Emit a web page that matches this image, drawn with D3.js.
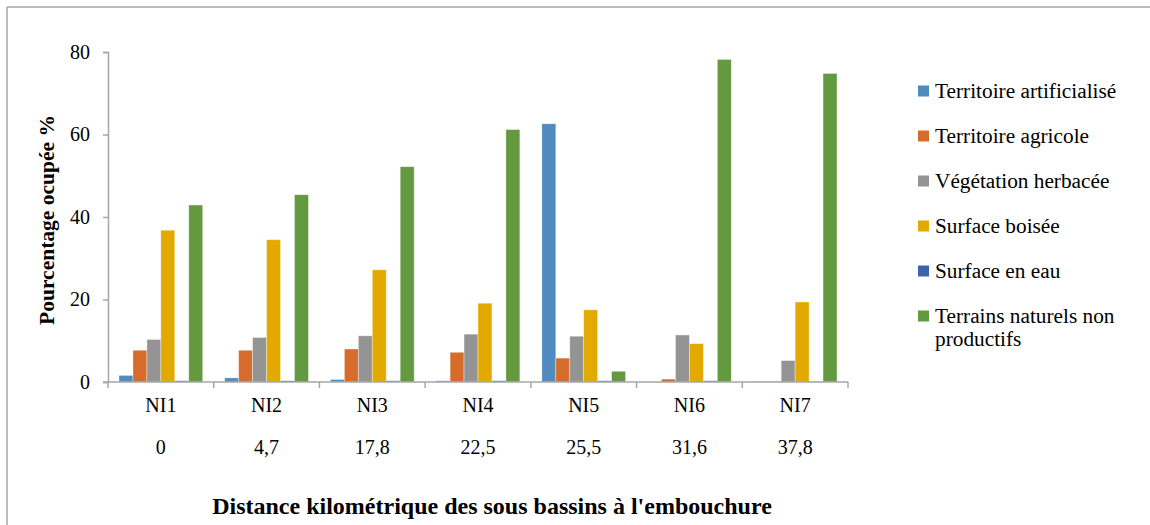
<!DOCTYPE html>
<html>
<head>
<meta charset="utf-8">
<script src="https://cdn.jsdelivr.net/npm/d3@7"></script>
<style>
  body { margin: 0; background: #fff; }
  svg { display: block; font-family: "Liberation Serif", "Times New Roman", serif; }
  svg text { font-family: "Liberation Serif", "Times New Roman", serif; }
</style>
</head>
<body>
<div id="chart"></div>
<script>
// data
const categories = ["NI1", "NI2", "NI3", "NI4", "NI5", "NI6", "NI7"];
const distances = ["0", "4,7", "17,8", "22,5", "25,5", "31,6", "37,8"];
const seriesNames = ["Territoire artificialisé", "Territoire agricole", "Végétation herbacée",
  "Surface boisée", "Surface en eau", "Terrains naturels non productifs"];
const artificialise = [1.6, 1.0, 0.6, 0.3, 62.6, 0, 0.1];
const agricole = [7.7, 7.7, 8.0, 7.2, 5.8, 0.7, 0.1];
const herbacee = [10.3, 10.8, 11.2, 11.6, 11.1, 11.4, 5.2];
const boisee = [36.8, 34.5, 27.2, 19.1, 17.5, 9.3, 19.4];
const eau = [0.3, 0.3, 0.3, 0.3, 0.3, 0.3, 0.1];
const naturels = [42.9, 45.4, 52.2, 61.2, 2.6, 78.2, 74.8];
const yTicks = [0, 20, 40, 60, 80];

const seriesValues = [artificialise, agricole, herbacee, boisee, eau, naturels];
const colors = ["#508ABE", "#D56C2C", "#949494", "#E2AA00", "#3B64AD", "#63993F"];

const width = 1150, height = 525;
const margin = { top: 52, right: 302, bottom: 143, left: 108 };

const svg = d3.select("#chart").append("svg")
  .attr("width", width)
  .attr("height", height);

// frame lines (top + left only visible)
svg.append("line").attr("x1", 7).attr("x2", width).attr("y1", 7).attr("y2", 7)
  .attr("stroke", "#A6A6A6").attr("stroke-width", 1.5);
svg.append("line").attr("x1", 7).attr("x2", 7).attr("y1", 7).attr("y2", height)
  .attr("stroke", "#A6A6A6").attr("stroke-width", 1.5);

const x0 = d3.scaleBand()
  .domain(categories)
  .range([margin.left, width - margin.right])
  .padding(0);

const x1 = d3.scaleBand()
  .domain(d3.range(seriesNames.length))
  .range([11, x0.bandwidth() - 11])
  .padding(0);

const y = d3.scaleLinear()
  .domain([0, 80])
  .range([height - margin.bottom, margin.top]);

// y axis
const yAxis = g => g
  .attr("transform", `translate(${margin.left},0)`)
  .call(d3.axisLeft(y).tickValues(yTicks).tickSize(5).tickPadding(13))
  .attr("font-family", null)
  .attr("font-size", null)
  .call(g => g.selectAll("line, path").attr("stroke", "#A6A6A6").attr("stroke-width", 1.5))
  .call(g => g.selectAll("text").attr("font-size", 20).attr("fill", "#000"));

svg.append("g").call(yAxis);

// bars
const groups = svg.append("g")
  .selectAll("g")
  .data(categories)
  .join("g")
  .attr("transform", d => `translate(${x0(d)},0)`);

groups.selectAll("rect")
  .data((d, i) => seriesValues.map((vals, s) => ({ s, v: vals[i] })))
  .join("rect")
  .attr("x", d => x1(d.s))
  .attr("width", x1.bandwidth())
  .attr("y", d => y(d.v))
  .attr("height", d => y(0) - y(d.v))
  .attr("fill", d => colors[d.s])
  .attr("stroke", "#fff")
  .attr("stroke-opacity", 0.45)
  .attr("stroke-width", 0.8);

// x axis
const xAxis = g => g
  .attr("transform", `translate(0,${y(0)})`)
  .call(d3.axisBottom(x0).tickSize(0).tickSizeOuter(0).tickFormat(""))
  .call(g => g.select(".domain").attr("stroke", "#A6A6A6").attr("stroke-width", 1.5)
    .attr("d", `M${margin.left - 5},0H${width - margin.right}`));

const gx = svg.append("g").call(xAxis);
gx.selectAll(".sep")
  .data(categories.concat(["end"]))
  .join("line")
  .attr("class", "sep")
  .attr("x1", (d, i) => i < categories.length ? x0(d) : x0(categories[categories.length - 1]) + x0.bandwidth())
  .attr("x2", (d, i) => i < categories.length ? x0(d) : x0(categories[categories.length - 1]) + x0.bandwidth())
  .attr("y1", 0).attr("y2", 6)
  .attr("stroke", "#A6A6A6").attr("stroke-width", 1.5);

// category labels, two rows
svg.append("g").selectAll("text")
  .data(categories)
  .join("text")
  .attr("x", d => x0(d) + x0.bandwidth() / 2)
  .attr("y", 412)
  .attr("text-anchor", "middle")
  .attr("font-size", 20)
  .text(d => d);

svg.append("g").selectAll("text")
  .data(distances)
  .join("text")
  .attr("x", (d, i) => x0(categories[i]) + x0.bandwidth() / 2)
  .attr("y", 454)
  .attr("text-anchor", "middle")
  .attr("font-size", 20)
  .text(d => d);

// axis titles
svg.append("text")
  .attr("x", 492)
  .attr("y", 514)
  .attr("text-anchor", "middle")
  .attr("font-size", 24)
  .attr("font-weight", "bold")
  .text("Distance kilométrique des sous bassins à l'embouchure");

svg.append("text")
  .attr("transform", `translate(54,${y(40) + 3}) rotate(-90)`)
  .attr("text-anchor", "middle")
  .attr("font-size", 21.5)
  .attr("font-weight", "bold")
  .text("Pourcentage ocupée %");

// legend
const legend = svg.append("g").attr("transform", "translate(918,91)");
const items = legend.selectAll("g")
  .data(seriesNames)
  .join("g")
  .attr("transform", (d, i) => `translate(0,${i * 45})`);

items.append("rect")
  .attr("x", 0).attr("y", -5.5)
  .attr("width", 11).attr("height", 11)
  .attr("fill", (d, i) => colors[i]);

items.append("text")
  .attr("x", 17)
  .attr("y", 7)
  .attr("font-size", 21.3)
  .each(function (d) {
    const t = d3.select(this);
    if (d === "Terrains naturels non productifs") {
      t.append("tspan").attr("x", 17).text("Terrains naturels non");
      t.append("tspan").attr("x", 17).attr("dy", 23).text("productifs");
    } else {
      t.text(d);
    }
  });
</script>
</body>
</html>
